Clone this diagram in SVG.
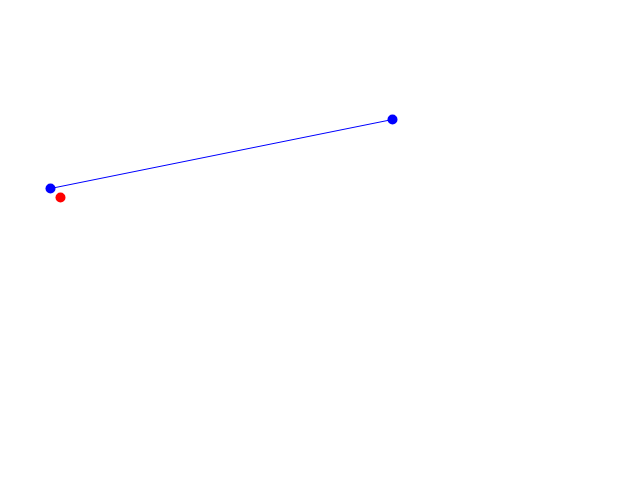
<svg xmlns="http://www.w3.org/2000/svg" width="640" height="480" viewBox="0 0 640 480">
<style>.b{fill:#0000ff}.r{fill:#ff0000}.l{stroke:#0000ff;stroke-width:1;fill:none}</style>
<rect width="640" height="480" fill="#fff"/>
<g id="connectors"><line class="l" x1="50.5" y1="188.5" x2="392.5" y2="119.5"/></g>
<g id="p1"><circle class="b" cx="50.5" cy="188.5" r="5"/></g>
<g id="p2"><circle class="b" cx="392.5" cy="119.5" r="5"/></g>
<g id="p3"><circle class="r" cx="60.5" cy="197.5" r="5"/></g>
</svg>
